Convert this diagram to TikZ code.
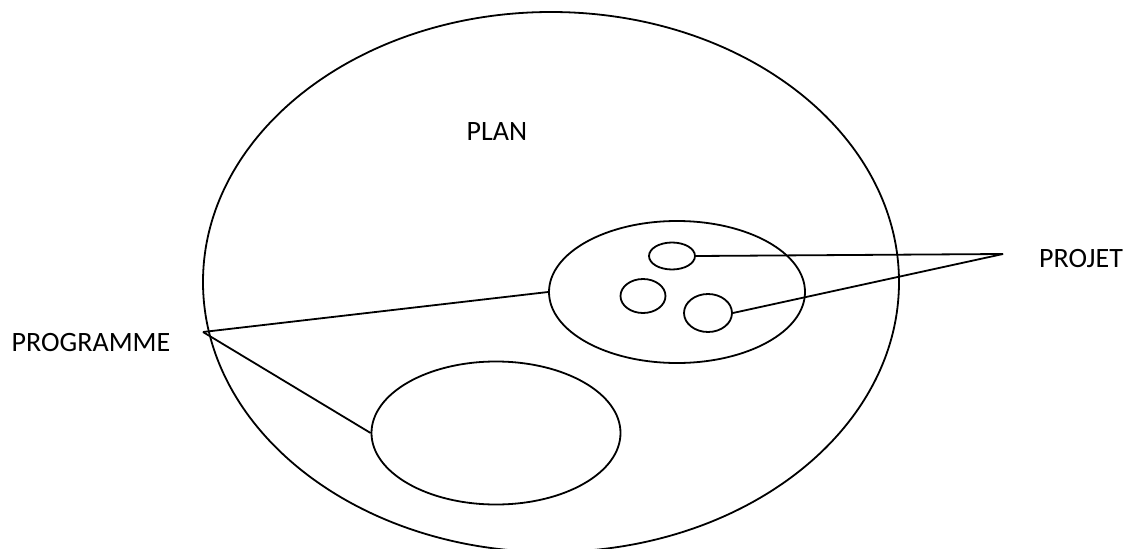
\documentclass[tikz,border=0pt]{standalone}
\usepackage{fontspec}
\setmainfont{Carlito}
\usepackage{tikz}
\usetikzlibrary{shapes.geometric, positioning, calc}
\tikzset{
  % Ensemble styles (sizes in pt, half of the pixel sizes)
  zone/.style={ellipse, draw=black, line width=0.9pt, inner sep=0pt},
  tag/.style={font=\fontsize{14}{16}\selectfont, text=black, inner sep=0pt},
  link/.style={line width=0.9pt},
}

\begin{document}
\begin{tikzpicture}[x=0.5pt, y=0.5pt]
    \useasboundingbox (0,0) rectangle (1131,548);
    \clip (0,0) rectangle (1131,548);

    % Plan
    \node[zone, minimum width=348pt, minimum height=270pt] (plan) at (551,266) {};
    \node[tag] (plantxt) at (497,416) {PLAN};

    % Programmes
    \node[zone, minimum width=128pt, minimum height=71pt] (progA) at (677,256) {};
    \node[zone, minimum width=124.5pt, minimum height=71.5pt] (progB) at (496,115) {};

    % Projets
    \node[zone, minimum width=23pt, minimum height=13.5pt] (projA) at (672,292) {};
    \node[zone, minimum width=22.5pt, minimum height=17pt] (projB) at (643,252) {};
    \node[zone, minimum width=24pt, minimum height=19pt] (projC) at (708,235) {};

    % Labels
    \node[tag] (progtxt) at (91,205) {PROGRAMME};
    \node[tag] (projtxt) at (1081,289) {PROJET};
    \coordinate (progpt) at (203,216);
    \coordinate (projpt) at (1003,294);

    % Connectors
    \draw[link] (projpt) -- (projA.east);
    \draw[link] (projpt) -- (projC.east);
    \draw[link] (progpt) -- (progA.west);
    \draw[link] (progpt) -- (progB.west);
\end{tikzpicture}
\end{document}
